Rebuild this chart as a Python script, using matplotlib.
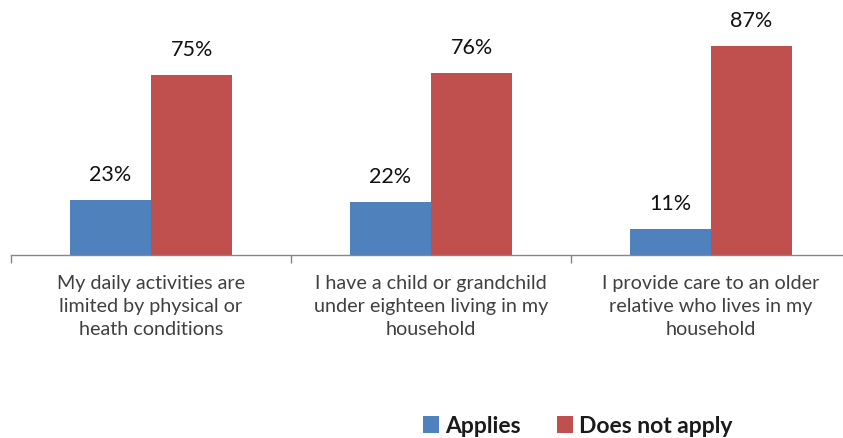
import matplotlib
matplotlib.use("Agg")
import matplotlib.pyplot as plt
import numpy as np

categories = [
    "My daily activities are\nlimited by physical or\nheath conditions",
    "I have a child or grandchild\nunder eighteen living in my\nhousehold",
    "I provide care to an older\nrelative who lives in my\nhousehold",
]
applies = [23, 22, 11]
does_not_apply = [75, 76, 87]
series_names = ["Applies", "Does not apply"]
colors = ["#4F81BD", "#C0504D"]

plt.rcParams["font.family"] = ["Lato", "DejaVu Sans"]

W, H = 843, 439
fig = plt.figure(figsize=(W / 100, H / 100), dpi=100)
ax = fig.add_axes([11 / W, 183 / H, 840 / W, 240 / H])

x = np.arange(len(categories))
bw = 0.29
b1 = ax.bar(x - bw / 2, applies, bw, color=colors[0], label=series_names[0])
b2 = ax.bar(x + bw / 2, does_not_apply, bw, color=colors[1], label=series_names[1])

for bars, vals in ((b1, applies), (b2, does_not_apply)):
    for r, v in zip(bars, vals):
        ax.text(r.get_x() + r.get_width() / 2, v + 10.8, f"{v}%",
                ha="center", va="center", fontsize=15.5, color="#111111",
                clip_on=False)

ax.set_xlim(-0.5, 2.5)
ax.set_ylim(0, 100)
ax.set_yticks([])
ax.set_xticks([-0.5, 0.5, 1.5, 2.5], minor=False)
ax.set_xticklabels([])
ax.tick_params(axis="x", length=6, width=1, color="#868686", direction="out")
for i, c in enumerate(categories):
    ax.text(i, -8, c, ha="center", va="top", fontsize=14.2, color="#404040",
            linespacing=1.42, transform=ax.transData)

for s in ("top", "right", "left"):
    ax.spines[s].set_visible(False)
ax.spines["bottom"].set_color("#868686")
ax.spines["bottom"].set_linewidth(1)

leg = fig.legend(handles=[b1, b2], labels=series_names, loc="center",
                 bbox_to_anchor=(578 / W, 1 - 427 / H), ncol=2, frameon=False,
                 prop={"weight": "bold", "size": 16.5}, handlelength=0.7,
                 handleheight=0.7, handletextpad=0.25, columnspacing=1.6)
for t in leg.get_texts():
    t.set_color("#1a1a1a")

fig.savefig("out.png", dpi=100)
